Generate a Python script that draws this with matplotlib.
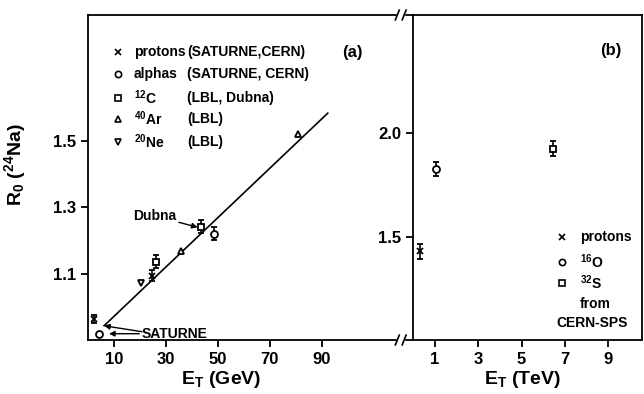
import matplotlib
matplotlib.use("Agg")
import matplotlib.pyplot as plt

plt.rcParams['font.family'] = ['Liberation Sans', 'DejaVu Sans']
plt.rcParams['font.weight'] = 'bold'
plt.rcParams['axes.labelweight'] = 'bold'
plt.rcParams['mathtext.fontset'] = 'custom'
plt.rcParams['mathtext.rm'] = 'Liberation Sans:bold'
plt.rcParams['mathtext.bf'] = 'Liberation Sans:bold'
plt.rcParams['mathtext.it'] = 'Liberation Sans:bold'
plt.rcParams['mathtext.default'] = 'bf'

# (a) low energy data, E_T in GeV
p_x = [2.2, 24.6]
p_y = [0.964, 1.094]
p_err = [0.012, 0.017]
alpha_x = [4.2, 48.4]
alpha_y = [0.919, 1.221]
alpha_err = [0.0, 0.019]
c12_x = [26.1, 43.5]
c12_y = [1.136, 1.242]
c12_err = [0.019, 0.019]
ar_x = [35.8, 80.7]
ar_y = [1.169, 1.521]
ne_x = [20.3]
ne_y = [1.073]
fit_x = [6.2, 92.3]
fit_y = [0.943, 1.584]

# (b) CERN-SPS data, E_T in TeV
sps_p_x = [0.31]
sps_p_y = [1.428]
sps_o_x = [1.03]
sps_o_y = [1.825]
sps_s_x = [6.43]
sps_s_y = [1.925]
sps_err = [0.035]

xt_a = [10, 30, 50, 70, 90]
yt_a = [1.1, 1.3, 1.5]
xt_b = [1, 3, 5, 7, 9]
yt_b = [1.5, 2.0]

lw = 1.3
ms = 5
fs = 12
lfs = 10

fig = plt.figure(figsize=(6.44, 3.94), dpi=100)
axa = fig.add_axes([0.1366, 0.137, 0.5051, 0.825])
axb = fig.add_axes([0.6418, 0.137, 0.3551, 0.825])

for ax in (axa, axb):
    for s in ax.spines.values():
        s.set_linewidth(lw)
    ax.tick_params(direction='out', width=lw, length=5, labelsize=fs)
axa.spines['right'].set_visible(False)

# ---- panel (a)
axa.set_xlim(0, 125.2)
axa.set_ylim(0.9, 1.88)
axa.set_xticks(xt_a, [str(v) for v in xt_a])
axa.set_yticks(yt_a, ['%.1f' % v for v in yt_a])

axa.plot(fit_x, fit_y, color='black', lw=1.2, zorder=1)
kw = dict(color='black', mfc='white', mec='black', mew=1.3, ms=ms,
          ls='none', capsize=2.5, elinewidth=1.2, capthick=1.2, zorder=3)
axa.errorbar(p_x, p_y, yerr=p_err, fmt='x', **kw)
axa.errorbar(alpha_x, alpha_y, yerr=alpha_err, fmt='o', **kw)
axa.errorbar(c12_x, c12_y, yerr=c12_err, fmt='s', **kw)
axa.plot(ar_x, ar_y, '^', color='black', mfc='white', mew=1.3, ms=ms, zorder=3)
axa.plot(ne_x, ne_y, 'v', color='black', mfc='white', mew=1.3, ms=ms, zorder=3)

arr = dict(arrowstyle='-|>', color='black', lw=1.0, mutation_scale=8,
           shrinkA=0, shrinkB=0)
axa.annotate('Dubna', xy=(42.2, 1.240), xytext=(33.9, 1.253),
             ha='right', va='bottom', fontsize=lfs, arrowprops=arr)
axa.annotate('', xy=(6.2, 0.943), xytext=(20.8, 0.925), arrowprops=arr)
axa.annotate('SATURNE', xy=(8.1, 0.919), xytext=(20.8, 0.919),
             ha='left', va='center', fontsize=lfs, arrowprops=arr)

# legend of panel (a)
leg_a = [('x', 'protons', '(SATURNE,CERN)'),
         ('o', 'alphas', '(SATURNE, CERN)'),
         ('s', '$^{12}$C', '(LBL, Dubna)'),
         ('^', '$^{40}$Ar', '(LBL)'),
         ('v', '$^{20}$Ne', '(LBL)')]
rows_a = [0.886, 0.818, 0.745, 0.680, 0.609]
for (m, name, lab), y in zip(leg_a, rows_a):
    axa.plot([0.092], [y], m, color='black', mfc='white', mew=1.2, ms=4.5,
             transform=axa.transAxes, clip_on=False)
    axa.text(0.141, y, name, transform=axa.transAxes, va='center', fontsize=lfs)
    axa.text(0.305, y, lab, transform=axa.transAxes, va='center', fontsize=lfs)
axa.text(0.812, 0.886, '(a)', transform=axa.transAxes, ha='center',
         va='center', fontsize=fs)

axa.set_xlabel('E$_T$ (GeV)', fontsize=14)
axa.xaxis.set_label_coords(0.41, -0.09, transform=axa.transAxes)
axa.xaxis.label.set_va('top')
axa.set_ylabel('R$_0$ ($^{24}$Na)', fontsize=14)
axa.yaxis.set_label_coords(-0.185, 0.54, transform=axa.transAxes)

# axis break marks
for xb in (0.951, 0.972):
    for yb in (0.0, 1.0):
        axa.plot([xb - 0.006, xb + 0.006], [yb - 0.015, yb + 0.015],
                 color='black', lw=1.2, transform=axa.transAxes,
                 clip_on=False, zorder=5)
for yb in (0.0, 1.0):
    axa.plot([0.954, 0.969], [yb, yb], color='white', lw=2.5,
             transform=axa.transAxes, clip_on=False, zorder=4)

# ---- panel (b)
axb.set_xlim(0, 10.56)
axb.set_ylim(1.0, 2.57)
axb.set_xticks(xt_b, [str(v) for v in xt_b])
axb.set_yticks(yt_b, ['%.1f' % v for v in yt_b])

axb.errorbar(sps_p_x, sps_p_y, yerr=sps_err, fmt='x', **kw)
axb.errorbar(sps_o_x, sps_o_y, yerr=sps_err, fmt='o', **kw)
axb.errorbar(sps_s_x, sps_s_y, yerr=sps_err, fmt='s', **kw)

leg_b = [('x', 'protons'), ('o', '$^{16}$O'), ('s', '$^{32}$S')]
rows_b = [0.317, 0.240, 0.175]
for (m, name), y in zip(leg_b, rows_b):
    axb.plot([0.65], [y], m, color='black', mfc='white', mew=1.2, ms=4.5,
             transform=axb.transAxes, clip_on=False)
    axb.text(0.729, y, name, transform=axb.transAxes, va='center', fontsize=lfs)
axb.text(0.729, 0.111, 'from', transform=axb.transAxes, va='center',
         fontsize=lfs)
axb.text(0.627, 0.052, 'CERN-SPS', transform=axb.transAxes, va='center',
         fontsize=lfs)
axb.text(0.863, 0.892, '(b)', transform=axb.transAxes, ha='center',
         va='center', fontsize=fs)

axb.set_xlabel('E$_T$ (TeV)', fontsize=14)
axb.xaxis.set_label_coords(0.476, -0.09, transform=axb.transAxes)
axb.xaxis.label.set_va('top')

# make sure every tick label is drawn bold
fig.canvas.draw()
for ax in (axa, axb):
    for tk in ax.xaxis.get_major_ticks() + ax.yaxis.get_major_ticks():
        tk.label1.set_fontweight('bold')
        tk.label1.set_fontsize(fs)

fig.savefig('out.png', dpi=100)
